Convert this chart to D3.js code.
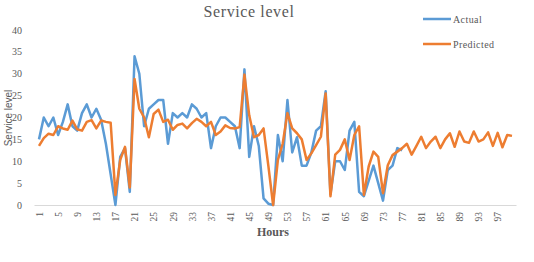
<!DOCTYPE html>
<html lang="en">
<head>
    <meta charset="UTF-8">
    <title>Service level</title>
    <script src="https://d3js.org/d3.v7.min.js"></script>
    <style>
        body {
            margin: 0;
            background: #fff;
        }

        svg {
            display: block;
        }

        .tick-label {
            font-family: "Liberation Serif", "DejaVu Serif", serif;
            font-size: 10px;
            fill: #595959;
        }
    </style>
</head>
<body>
    <svg id="chart" width="534" height="262"></svg>

    <script>
        // hours 1..100
        const hours = d3.range(1, 101);
        const xTicks = d3.range(1, 101, 4);
        const yTicks = [0, 5, 10, 15, 20, 25, 30, 35, 40];

        // actual only known up to hour 77
        const actual = [15, 20, 18, 20, 16, 19, 23, 18, 17, 21,
            23, 20, 22, 19.5, 14, 7, 0, 11, 13, 3,
            34, 30, 18, 22, 23, 24, 24, 14, 21, 20,
            21, 20, 23, 22, 20, 21, 13, 18, 20, 20,
            19, 18, 13, 31, 11, 18, 13.5, 1.5, 0.3, 0,
            16, 10, 24, 12, 15.5, 9, 9, 12, 17, 18,
            26, 2.5, 10, 10, 8, 17, 19, 3, 2, 5.5,
            9, 5, 1, 8, 9, 13, 12.5];

        const predicted = [13.5, 15.3, 16.3, 16, 18, 17.5, 17.2, 19.3, 17.3, 17,
            19, 19.4, 17.5, 19.3, 19, 18.8, 2.3, 10.3, 13.3, 4,
            28.8, 22, 20, 15.5, 20.8, 21.8, 19, 19.5, 17.2, 18.3,
            18.6, 17.5, 18.7, 19.7, 19, 18, 19, 16, 16.8, 18.2,
            17.6, 17.5, 17.8, 29.8, 20.5, 15.5, 16, 17.5, 9, 0,
            10.3, 14, 21, 17.5, 16.4, 15, 10.3, 11.8, 13.7, 15.6,
            25.5, 2, 11.5, 12.6, 15, 10.3, 16, 18, 2.3, 8.8,
            12.2, 11, 2.7, 9.1, 11.4, 12.2, 13, 14, 11.5, 13.5,
            15.6, 13, 14.5, 15.6, 13, 15, 16.4, 13.3, 16.8, 14.5,
            14.2, 16.8, 14.5, 15, 16.6, 13.5, 16.5, 13.2, 16, 15.8];

        const series = [
            { name: "Actual", values: actual, color: "#5B9BD5" },
            { name: "Predicted", values: predicted, color: "#ED7D31" }
        ];

        const svg = d3.select("#chart");

        const x = d3.scalePoint().domain(hours).range([39, 512]);
        const y = d3.scaleLinear().domain([0, 40]).range([205, 30]);

        // title
        svg.append("text")
            .attr("x", 249).attr("y", 17)
            .attr("text-anchor", "middle")
            .style("font-family", "'Liberation Serif', serif")
            .style("font-size", "16px")
            .style("letter-spacing", "0.6px")
            .style("fill", "#595959")
            .text("Service level");

        // y axis labels
        svg.selectAll(".ylab")
            .data(yTicks)
            .enter().append("text")
            .attr("class", "tick-label")
            .attr("x", 22)
            .attr("y", d => y(d) + 3.5)
            .attr("text-anchor", "end")
            .text(d => d);

        svg.append("text")
            .attr("transform", "translate(12,118) rotate(-90)")
            .attr("text-anchor", "middle")
            .style("font-family", "'Liberation Sans', sans-serif")
            .style("font-size", "10px")
            .style("fill", "#595959")
            .text("Service level");

        // x axis
        const xAxis = svg.append("g")
            .attr("transform", "translate(0,205)")
            .call(d3.axisBottom(x).tickValues(xTicks).tickSize(0).tickPadding(0));
        xAxis.select(".domain")
            .attr("d", "M34.5,0.5H516.5")
            .attr("stroke", "#d9d9d9");
        xAxis.selectAll("text")
            .attr("class", "tick-label")
            .attr("transform", "rotate(-90)")
            .attr("x", -7)
            .attr("y", 0)
            .attr("dy", "0.35em")
            .attr("text-anchor", "end")
            .style("font-size", "9.5px");

        svg.append("text")
            .attr("x", 273).attr("y", 236)
            .attr("text-anchor", "middle")
            .style("font-family", "'Liberation Serif', serif")
            .style("font-size", "12px")
            .style("font-weight", "bold")
            .style("fill", "#595959")
            .text("Hours");

        // lines
        const line = d3.line()
            .x((d, i) => x(hours[i]))
            .y(d => y(d));

        svg.selectAll(".series")
            .data(series)
            .enter().append("path")
            .attr("fill", "none")
            .attr("stroke", d => d.color)
            .attr("stroke-width", 2.5)
            .attr("stroke-linejoin", "round")
            .attr("d", d => line(d.values));

        // legend
        const legend = svg.selectAll(".legend")
            .data(series)
            .enter().append("g")
            .attr("transform", (d, i) => `translate(423,${19 + i * 25})`);
        legend.append("line")
            .attr("x1", 0).attr("x2", 28)
            .attr("stroke", d => d.color)
            .attr("stroke-width", 2.5);
        legend.append("text")
            .attr("x", 30).attr("y", 3.5)
            .attr("class", "tick-label")
            .style("letter-spacing", "0.4px")
            .text(d => d.name);
    </script>
</body>
</html>
